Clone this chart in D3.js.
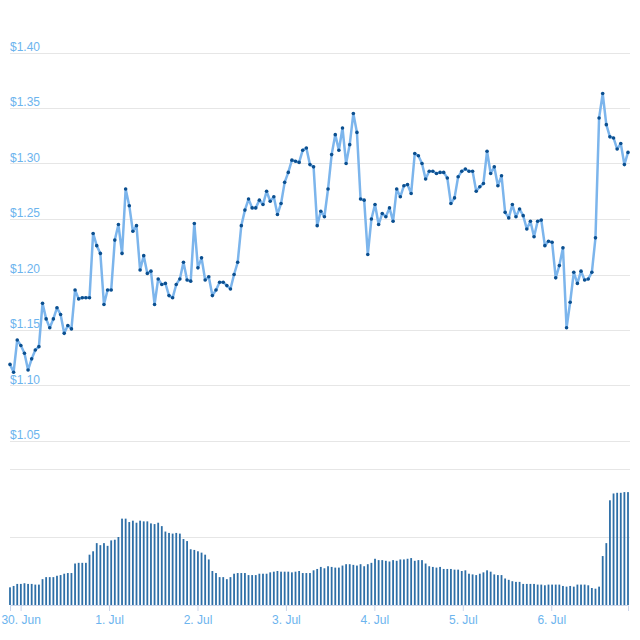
<!DOCTYPE html>
<html><head><meta charset="utf-8">
<script src="https://cdn.jsdelivr.net/npm/d3@7"></script>
<style>body{margin:0;background:#fff}</style>
</head><body><div id="viz"></div>
<script>
const price = [1.119,1.112,1.141,1.136,1.129,1.114,1.124,1.132,1.135,1.174,1.160,1.152,1.160,1.170,1.164,1.147,1.154,1.151,1.186,1.178,
  1.179,1.179,1.179,1.237,1.226,1.219,1.173,1.186,1.186,1.231,1.245,1.219,1.277,1.262,1.239,1.244,1.204,1.217,1.201,1.203,
  1.173,1.196,1.191,1.192,1.181,1.179,1.191,1.196,1.211,1.195,1.194,1.246,1.206,1.215,1.195,1.198,1.181,1.186,1.193,1.193,
  1.190,1.187,1.200,1.211,1.244,1.258,1.268,1.260,1.260,1.267,1.263,1.275,1.266,1.270,1.254,1.264,1.283,1.292,1.303,1.302,
  1.301,1.312,1.314,1.299,1.297,1.244,1.257,1.252,1.277,1.308,1.326,1.312,1.332,1.300,1.317,1.345,1.328,1.268,1.267,1.218,
  1.250,1.263,1.245,1.255,1.252,1.260,1.248,1.277,1.270,1.280,1.281,1.273,1.309,1.307,1.300,1.286,1.293,1.293,1.291,1.292,
  1.292,1.287,1.264,1.269,1.288,1.293,1.295,1.293,1.293,1.275,1.279,1.282,1.311,1.291,1.297,1.280,1.289,1.256,1.251,1.263,
  1.252,1.259,1.253,1.241,1.248,1.234,1.248,1.249,1.226,1.230,1.229,1.197,1.208,1.224,1.152,1.175,1.202,1.192,1.203,1.195,
  1.196,1.202,1.233,1.341,1.363,1.335,1.324,1.323,1.313,1.318,1.299,1.310];

const volume = [0.26,0.28,0.31,0.31,0.32,0.31,0.31,0.30,0.30,0.38,0.41,0.41,0.41,0.43,0.44,0.46,0.47,0.47,0.61,0.62,
  0.62,0.62,0.74,0.79,0.91,0.88,0.91,0.87,0.95,0.96,1.00,1.27,1.27,1.22,1.24,1.21,1.24,1.23,1.23,1.20,
  1.19,1.21,1.16,1.08,1.06,1.05,1.06,1.05,0.97,0.94,0.82,0.81,0.79,0.77,0.74,0.67,0.50,0.47,0.41,0.41,
  0.38,0.41,0.46,0.47,0.47,0.47,0.44,0.44,0.44,0.46,0.46,0.46,0.48,0.49,0.50,0.49,0.49,0.49,0.48,0.49,
  0.50,0.47,0.47,0.47,0.51,0.53,0.56,0.54,0.57,0.56,0.55,0.55,0.58,0.60,0.60,0.59,0.58,0.60,0.57,0.60,
  0.62,0.68,0.66,0.66,0.65,0.64,0.66,0.65,0.67,0.67,0.68,0.69,0.65,0.66,0.66,0.61,0.57,0.56,0.55,0.56,
  0.53,0.53,0.53,0.52,0.52,0.50,0.51,0.46,0.45,0.44,0.46,0.48,0.51,0.49,0.45,0.44,0.44,0.39,0.37,0.35,
  0.34,0.34,0.31,0.31,0.31,0.31,0.30,0.30,0.29,0.30,0.30,0.30,0.30,0.28,0.27,0.28,0.27,0.30,0.30,0.30,
  0.29,0.25,0.24,0.27,0.72,0.91,1.54,1.64,1.65,1.65,1.66,1.66];

const priceTicks = [1.05, 1.10, 1.15, 1.20, 1.25, 1.30, 1.35, 1.40];
const dayTicks = ["2021-06-30","2021-07-01","2021-07-02","2021-07-03","2021-07-04","2021-07-05","2021-07-06"];

const t0 = new Date("2021-06-29T21:07:00").getTime(),
  t1 = new Date("2021-07-06T20:50:00").getTime();
const step = (t1 - t0) / (price.length - 1);
const dates = price.map((d, i) => new Date(t0 + i * step));

const width = 640, height = 640;
const svg = d3.select("#viz").append("svg")
  .attr("width", width).attr("height", height)
  .style("font-family", "'Liberation Sans', Arial, sans-serif");

const x = d3.scaleTime().domain([t0, t1]).range([10, 628]);
const y = d3.scaleLinear().domain([1.05, 1.40]).range([441, 52.5]);
const yv = d3.scaleLinear().domain([0, 2]).range([605, 469]);

const grid = "#e6e6e6", label = "#6cb4ee";

// price grid + labels
svg.append("g").selectAll("line").data(priceTicks).join("line")
  .attr("x1", 10).attr("x2", 630)
  .attr("y1", d => Math.round(y(d)) + 0.5).attr("y2", d => Math.round(y(d)) + 0.5)
  .attr("stroke", grid);
svg.append("g").selectAll("text").data(priceTicks).join("text")
  .attr("x", 10).attr("y", d => y(d) - 2)
  .attr("fill", label).style("font-size", "12px")
  .text(d => "$" + d.toFixed(2));

// volume grid
svg.append("g").selectAll("line").data([1, 2]).join("line")
  .attr("x1", 10).attr("x2", 630)
  .attr("y1", d => Math.round(yv(d)) + 0.5).attr("y2", d => Math.round(yv(d)) + 0.5)
  .attr("stroke", grid);

// volume bars
svg.append("g").selectAll("rect").data(volume.slice(0, dates.length)).join("rect")
  .attr("x", (d, i) => x(dates[i]) - 0.9)
  .attr("width", 1.8)
  .attr("y", d => yv(d))
  .attr("height", d => yv(0) - yv(d))
  .attr("fill", "#2e6fa7");

// x axis
const xAxis = svg.append("g")
  .attr("transform", `translate(0,${yv(0)})`)
  .call(d3.axisBottom(x)
    .tickValues(dayTicks.map(d => new Date(d + "T00:00:00")))
    .tickFormat(d3.timeFormat("%-d. %b").bind(null))
    .tickSize(6).tickPadding(4));
xAxis.select(".domain").attr("stroke", "#ccd6eb");
xAxis.selectAll(".tick line").attr("stroke", "#ccd6eb");
xAxis.selectAll("text").attr("fill", label)
  .style("font-size", "12px").style("font-family", "'Liberation Sans', Arial, sans-serif")
  .text(function(d) { return d3.timeFormat("%-d. %b")(d).replace("Jun", "Jun").replace("July", "Jul"); });

// price line
const line = d3.line().x((d, i) => x(dates[i])).y(d => y(d));
svg.append("path").datum(price)
  .attr("fill", "none").attr("stroke", "#7cb5ec").attr("stroke-width", 2.5)
  .attr("stroke-linejoin", "round")
  .attr("d", line);

svg.append("g").selectAll("circle").data(price).join("circle")
  .attr("cx", (d, i) => x(dates[i])).attr("cy", d => y(d))
  .attr("r", 1.8)
  .attr("fill", "#0b4f8f");
</script>
</body></html>
